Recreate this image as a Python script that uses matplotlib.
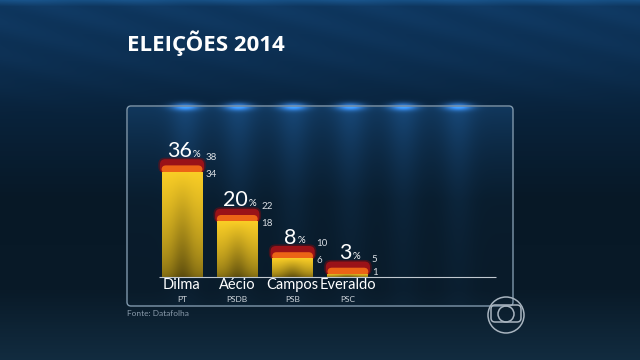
import numpy as np
import matplotlib.pyplot as plt
from matplotlib.patches import FancyBboxPatch, Circle

# dados (Datafolha)
candidatos = ["Dilma", "Aécio", "Campos", "Everaldo"]
partidos = ["PT", "PSDB", "PSB", "PSC"]
intencao = [36, 20, 8, 3]
minimo = [34, 18, 6, 1]
maximo = [38, 22, 10, 5]

W, H = 640, 360
fig = plt.figure(figsize=(6.4, 3.6), dpi=100)

# 1. fundo azul
bg = fig.add_axes([0, 0, 1, 1])
bg.set_xlim(0, W)
bg.set_ylim(H, 0)
bg.axis("off")

yy, xx = np.mgrid[0:H, 0:W].astype(float)
stops = [0, 6, 60, 110, 200, 290, 360]
cols = np.array([(22, 78, 130), (14, 54, 94), (12, 46, 80), (9, 35, 60),
                 (7, 24, 38), (9, 26, 40), (18, 44, 64)], float)
img = np.zeros((H, W, 3))
for c in range(3):
    img[..., c] = np.interp(yy, stops, cols[:, c])
# listras diagonais na parte de cima
streak = 0.5 + 0.5 * np.sin((xx * 0.35 - yy * 1.2) / 6.0)
img += (streak * np.clip(1 - yy / 120, 0, 1) * 6)[..., None] * np.array([0.4, 0.8, 1.2])

# painel: luz de cima
px0, px1, py0, py1 = 127, 513, 106, 306
inside = (xx > px0) & (xx < px1) & (yy > py0) & (yy < py1)
fade = np.exp(-(yy - py0) / 70.0)
img += (inside * fade)[..., None] * np.array([8, 20, 32])
for cx in [185, 238, 293, 350, 403, 458]:
    beam = np.exp(-((xx - cx) / 16.0) ** 2) * np.exp(-(yy - py0) / 110.0)
    img += (inside * beam)[..., None] * np.array([7, 18, 30])
    spot = np.exp(-((xx - cx) / 14.0) ** 2 - ((yy - py0) / 4.0) ** 2)
    img += spot[..., None] * np.array([45, 95, 160])

img = np.clip(img, 0, 255) / 255.0
bg.imshow(img, extent=[0, W, H, 0], aspect="auto", interpolation="bilinear", zorder=0)

bg.add_patch(FancyBboxPatch((px0, py0), px1 - px0, py1 - py0,
                            boxstyle="round,pad=0,rounding_size=4",
                            fill=False, ec="#8098ac", lw=1.0, zorder=1))

bg.text(127, 51, "ELEIÇÕES 2014", fontsize=16, fontweight="bold",
        family="Open Sans", color="white", va="baseline", zorder=2)
bg.text(127, 314, "Fonte: Datafolha", fontsize=6, color="#8a9bab",
        family="Lato", va="center", zorder=2)

# logo
bg.add_patch(Circle((506, 315), 18, fill=False, ec="#a8b4bf", lw=1.1, zorder=2))
bg.add_patch(FancyBboxPatch((491, 305), 30, 17, boxstyle="round,pad=0,rounding_size=4",
                            fill=False, ec="#a8b4bf", lw=1.1, zorder=2))
bg.add_patch(Circle((506, 314), 8, fill=False, ec="#a8b4bf", lw=1.1, zorder=2))

# 2. grafico
ppx, ppy = 55.3, 3.1
ax = fig.add_axes([px0 / W, (H - py1) / H, (px1 - px0) / W, (py1 - py0) / H])
ax.patch.set_alpha(0)
ax.axis("off")
xlim = (-(182 - px0) / ppx, (px1 - 182) / ppx)
ylim = (-(py1 - 277) / ppy, (277 - py0) / ppy)

x = np.arange(len(candidatos))
w = 0.74
asp = ppx / ppy

bars = ax.bar(x, minimo, width=w, color="#e0b81c", zorder=4)

# gradiente amarelo
v = np.linspace(0, 1, 100)[:, None]
u = np.linspace(0, 1, 40)[None, :]
top = np.array([250, 206, 38]) / 255
bot = np.array([125, 104, 18]) / 255
grad = bot + (top - bot) * (v ** 0.6)[..., None]
dark = 1 - 0.3 * (1 - v) * np.exp(-((u - 0.5) / 0.25) ** 2)
grad = grad * dark[..., None]
for b, xi, lo in zip(bars, x, minimo):
    im = ax.imshow(grad, extent=[xi - w / 2, xi + w / 2, 0, lo], origin="lower",
                   aspect="auto", zorder=4.5)
    im.set_clip_path(b)

for xi, val, lo, hi in zip(x, intencao, minimo, maximo):
    # margem de erro: vermelho ate o maximo, laranja ate o valor
    ax.add_patch(FancyBboxPatch((xi - w / 2 - 0.06, lo - 0.5), w + 0.12, hi - lo + 1.0,
                                boxstyle="round,pad=0,rounding_size=0.12",
                                mutation_aspect=asp, fc="#7a0a10", ec="none",
                                alpha=0.5, zorder=2))
    ax.add_patch(FancyBboxPatch((xi - w / 2 - 0.03, lo - 0.5), w + 0.06, hi - lo + 0.5,
                                boxstyle="round,pad=0,rounding_size=0.1",
                                mutation_aspect=asp, fc="#9a1218", ec="none", zorder=2.5))
    ax.add_patch(FancyBboxPatch((xi - w / 2, lo - 0.5), w, val - lo + 0.5,
                                boxstyle="round,pad=0,rounding_size=0.08",
                                mutation_aspect=asp, fc="#ec6416", ec="none", zorder=3))

    t = ax.text(xi - 0.04, hi + 0.8, str(val), ha="center", va="baseline",
                fontsize=15.5, color="white", family="Lato", zorder=6)
    ax.annotate("%", xy=(1, 0), xycoords=t, xytext=(0.5, 1.5), textcoords="offset points",
                ha="left", va="bottom", fontsize=7, color="white", family="Lato", zorder=6)

    ax.text(xi + w / 2 + 0.06, hi + 0.7, str(hi), ha="left", va="center",
            fontsize=7, color="#d8dde2", family="Lato", zorder=6)
    ax.text(xi + w / 2 + 0.06, max(lo - 0.8, 1.3), str(lo), ha="left", va="center",
            fontsize=7, color="#d8dde2", family="Lato", zorder=6)

for xi, nome, part in zip(x, candidatos, partidos):
    ax.text(xi, -2.7, nome, ha="center", va="center", fontsize=10.5,
            color="white", family="Lato", zorder=6)
    ax.text(xi, -7.1, part, ha="center", va="center", fontsize=6,
            color="#d0d6dc", family="Lato", zorder=6)

ax.hlines(0, (159 - 182) / ppx, (496 - 182) / ppx, color="#c0c8d0", lw=0.8, zorder=5)

ax.set_xlim(*xlim)
ax.set_ylim(*ylim)

fig.savefig("out.png", dpi=100)
